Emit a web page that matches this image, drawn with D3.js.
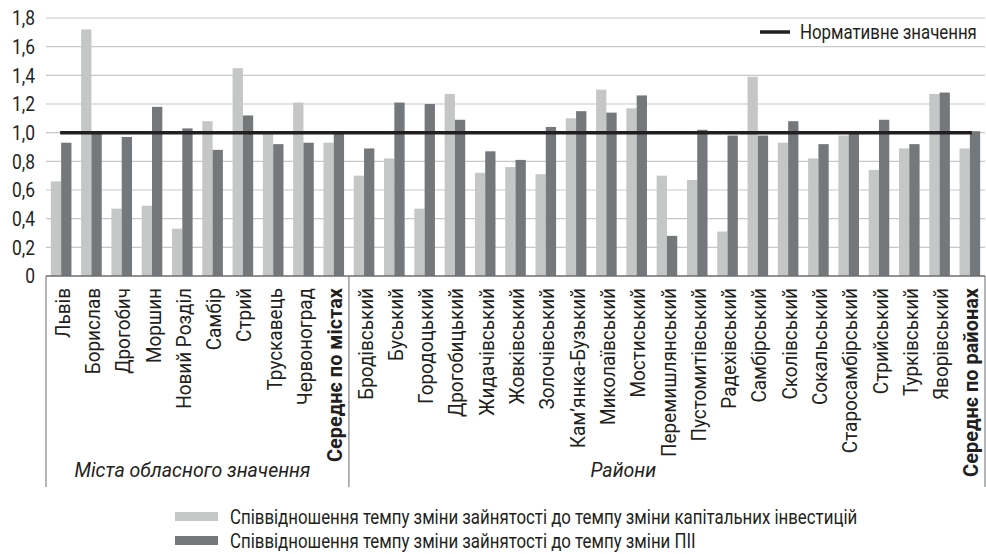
<!DOCTYPE html>
<html>
<head>
<meta charset="utf-8">
<script src="https://cdn.jsdelivr.net/npm/d3@7"></script>
<style>
  html, body { margin: 0; padding: 0; background: #fff; }
  svg { display: block; }
  text { font-family: Roboto, 'Open Sans', sans-serif; fill: #231f20; }
</style>
</head>
<body>
<svg id="chart" width="986" height="554"></svg>
<script>
const categories = [
  "Львів","Борислав","Дрогобич","Моршин","Новий Розділ","Самбір","Стрий","Трускавець","Червоноград","Середнє по містах",
  "Бродівський","Буський","Городоцький","Дрогобицький","Жидачівський","Жовківський","Золочівський","Кам’янка-Бузький","Миколаївський","Мостиський",
  "Перемишлянський","Пустомитівський","Радехівський","Самбірський","Сколівський","Сокальський","Старосамбірський","Стрийський","Турківський","Яворівський","Середнє по районах"
];
const boldCategories = ["Середнє по містах","Середнє по районах"];
const investRatio = [0.66,1.72,0.47,0.49,0.33,1.08,1.45,0.99,1.21,0.93,
  0.70,0.82,0.47,1.27,0.72,0.76,0.71,1.10,1.30,1.17,0.70,0.67,0.31,1.39,0.93,0.82,0.98,0.74,0.89,1.27,0.89];
const fdiRatio = [0.93,1.01,0.97,1.18,1.03,0.88,1.12,0.92,0.93,1.00,
  0.89,1.21,1.20,1.09,0.87,0.81,1.04,1.15,1.14,1.26,0.28,1.02,0.98,0.98,1.08,0.92,1.00,1.09,0.92,1.28,1.01];
const normativeValue = 1.0;
const yTicks = [0,0.2,0.4,0.6,0.8,1.0,1.2,1.4,1.6,1.8];
const groups = [
  {name: "Міста обласного значення", first: "Львів", last: "Середнє по містах"},
  {name: "Райони", first: "Бродівський", last: "Середнє по районах"}
];
const seriesNames = [
  "Співвідношення темпу зміни зайнятості до темпу зміни капітальних інвестицій",
  "Співвідношення темпу зміни зайнятості до темпу зміни ПІІ"
];
const normativeName = "Нормативне значення";
const seriesColors = ["#c5c6c6", "#75787b"];

const svg = d3.select("#chart");
const mLeft = 46, mRight = 985, mTop = 18, mBottom = 276;
const FS = 21;

// the reference typeface is narrow: compress Roboto horizontally to matching widths
function measure(str, weight, style) {
  const t = svg.append("text").attr("font-size", FS).attr("font-weight", weight || "normal")
    .attr("font-style", style || "normal").text(str);
  const L = t.node().getComputedTextLength();
  t.remove();
  return L;
}
const kReg = 177 / measure(normativeName);
const kCat = 169 / measure("Перемишлянський");
const kBold = 189 / measure("Середнє по районах", "bold");
const kIt = 236 / measure(groups[0].name, null, "italic");
const kLeg = 260 / measure("Співвідношення темпу зміни зай");
const kTick = 23 / measure("1,8");

const x = d3.scaleBand().domain(categories).range([mLeft, mRight]).paddingInner(0.32).paddingOuter(0.16);
const xs = d3.scaleBand().domain([0,1]).range([0, x.bandwidth()]);
const y = d3.scaleLinear().domain([0, 1.8]).range([mBottom, mTop]);
const fmt = v => v === 0 ? "0" : d3.format(".1f")(v).replace(".", ",");

// gridlines
svg.append("g").selectAll("line").data(yTicks.filter(t => t > 0)).join("line")
  .attr("x1", mLeft).attr("x2", mRight)
  .attr("y1", d => y(d)).attr("y2", d => y(d))
  .attr("stroke", "#c8c8c8").attr("stroke-width", 1.2);

// y axis labels
const yAxis = d3.axisLeft(y).tickValues(yTicks).tickFormat(fmt).tickSize(0).tickPadding(11);
const ya = svg.append("g").attr("transform", `translate(${mLeft},0)`).call(yAxis);
ya.select(".domain").remove();
ya.attr("font-family", null).attr("font-size", null);
ya.selectAll("text").attr("font-size", FS)
  .style("fill", "#231f20")
  .attr("x", -11 / kTick)
  .attr("transform", `scale(${kTick},1)`);

// bars
const series = [investRatio, fdiRatio];
series.forEach((vals, si) => {
  svg.append("g").selectAll("rect").data(categories).join("rect")
    .attr("x", (d) => x(d) + xs(si))
    .attr("width", xs.bandwidth())
    .attr("y", (d, i) => y(vals[i]))
    .attr("height", (d, i) => y(0) - y(vals[i]))
    .attr("fill", seriesColors[si]);
});

// x axis line
svg.append("line").attr("x1", mLeft).attr("x2", mRight).attr("y1", y(0)).attr("y2", y(0))
  .attr("stroke", "#6d6e70").attr("stroke-width", 1.5);

// normative line
const c0 = x(categories[0]) + x.bandwidth()/2 - 1;
const c1 = x(categories[categories.length-1]) + x.bandwidth()/2 + 2;
svg.append("line").attr("x1", c0).attr("x2", c1).attr("y1", y(normativeValue)).attr("y2", y(normativeValue))
  .attr("stroke", "#231f20").attr("stroke-width", 3.5);

// category labels
const half = x.step() * x.paddingOuter();
svg.append("g").selectAll("text").data(categories).join("text")
  .attr("transform", d => `translate(${x(d) + x.bandwidth()/2 + 1},288) rotate(-90) scale(${boldCategories.includes(d) ? kBold : kCat},1)`)
  .attr("text-anchor", "end").attr("dy", "0.36em")
  .attr("font-size", FS)
  .attr("font-weight", d => boldCategories.includes(d) ? "bold" : "normal")
  .text(d => d);

// group separators
const sepXs = [mLeft, x(groups[1].first) - half, mRight];
svg.append("g").selectAll("line").data(sepXs).join("line")
  .attr("x1", d => d).attr("x2", d => d).attr("y1", y(0)).attr("y2", 487)
  .attr("stroke", "#808285").attr("stroke-width", 1.2);

// group labels
const groupX = [(mLeft + x(groups[1].first) - half)/2 - 5, x("Мостиський") - 3];
svg.append("g").selectAll("text").data(groups).join("text")
  .attr("transform", (d, i) => `translate(${groupX[i]},477) scale(${kIt},1)`)
  .attr("text-anchor", "middle").attr("font-size", FS).attr("font-style", "italic")
  .text(d => d.name);

// top-right legend
svg.append("line").attr("x1", 760).attr("x2", 790).attr("y1", 32).attr("y2", 32)
  .attr("stroke", "#231f20").attr("stroke-width", 3.5);
svg.append("text").attr("transform", `translate(800,32) scale(${kReg},1)`)
  .attr("dy", "0.35em").attr("font-size", FS).text(normativeName);

// bottom legend
const lg = svg.append("g").selectAll("g").data(seriesNames).join("g")
  .attr("transform", (d, i) => `translate(175,${512 + i*24})`);
lg.append("rect").attr("width", 43).attr("height", 9).attr("fill", (d, i) => seriesColors[i]);
lg.append("text").attr("transform", `translate(55,4.5) scale(${kLeg},1)`)
  .attr("dy", "0.35em").attr("font-size", FS).text(d => d);
</script>
</body>
</html>
